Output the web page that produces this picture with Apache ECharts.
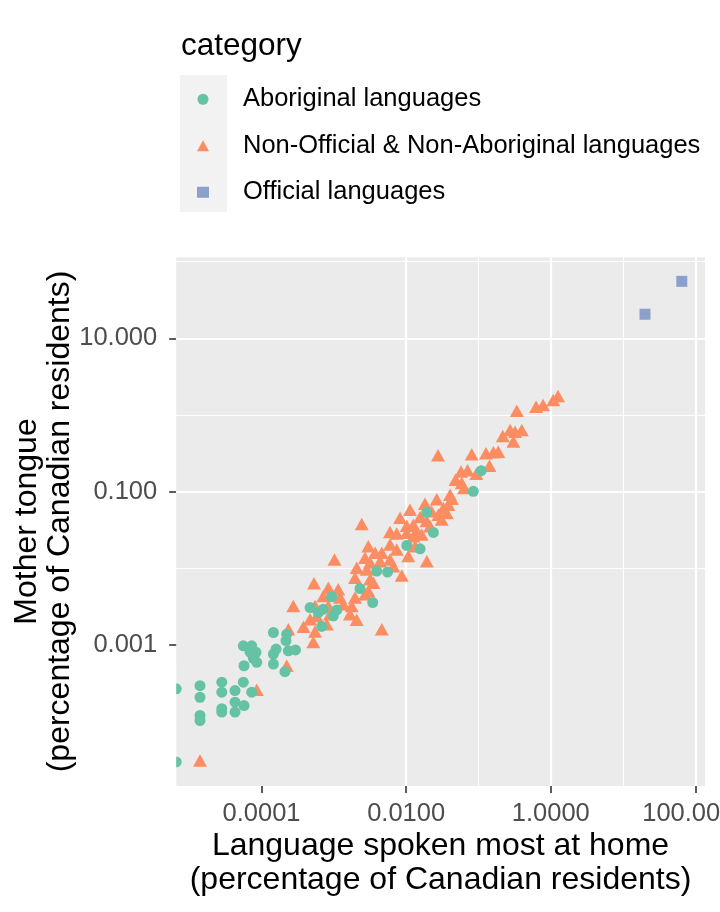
<!DOCTYPE html>
<html><head><meta charset="utf-8">
<script src="https://cdn.jsdelivr.net/npm/echarts@6/dist/echarts.min.js"></script>
<style>html,body{margin:0;padding:0;background:#fff}#c{width:720px;height:912px}</style>
</head><body><div id="c"></div>
<script>
// ---- data (percentage of Canadian residents) ----
const categories = ['Aboriginal languages', 'Non-Official & Non-Aboriginal languages', 'Official languages'];

// 0 = not spoken most at home (log of 0 -> drawn at panel edge)
const aboriginalHome = [0, 0, 1.41e-5, 1.41e-5, 1.41e-5, 1.41e-5, 2.82e-5, 2.82e-5, 2.82e-5, 2.82e-5,
  4.30e-5, 4.30e-5, 4.30e-5, 5.60e-5, 5.73e-5, 7.31e-5, 5.60e-5, 7.31e-5, 6.93e-5, 7.70e-5,
  8.39e-5, 8.59e-5, 5.73e-5, 1.46e-4, 1.46e-4, 1.59e-4, 1.46e-4, 2.23e-4, 2.18e-4, 2.35e-4,
  2.95e-4, 2.11e-4, 4.69e-4, 6.11e-4, 7.16e-4, 6.80e-4, 9.35e-4, 9.84e-4, 1.10e-3, 2.30e-3,
  3.45e-3, 3.92e-3, 5.53e-3, 1.02e-2, 1.56e-2, 1.93e-2, 2.38e-2, 8.49e-2, 0.109];
const aboriginalMother = [2.69e-4, 3.0e-5, 2.96e-4, 2.09e-4, 1.21e-4, 1.04e-4, 3.28e-4, 2.43e-4, 1.48e-4, 1.34e-4,
  2.55e-4, 1.80e-4, 1.34e-4, 3.28e-4, 1.63e-4, 2.43e-4, 9.8e-4, 9.8e-4, 8.11e-4, 6.73e-4,
  8.04e-4, 5.96e-4, 5.38e-4, 1.46e-3, 7.64e-4, 8.87e-4, 5.66e-4, 1.39e-3, 1.14e-3, 8.43e-4,
  8.65e-4, 4.5e-4, 3.09e-3, 2.66e-3, 2.94e-3, 1.75e-3, 4.27e-3, 2.40e-3, 2.87e-3, 5.45e-3,
  3.59e-3, 9.23e-3, 8.95e-3, 1.99e-2, 1.80e-2, 5.38e-2, 2.94e-2, 0.101, 0.188];

const nonOfficialHome = [1.26, 1.08, 0.782, 0.627, 0.339, 0.397, 0.321, 0.274, 0.217, 0.304,
  0.0276, 0.0807, 0.127, 0.161, 0.188, 0.142, 0.0574, 0.0706, 0.0935, 0.0482,
  0.0587, 0.0632, 0.0405, 0.0428, 0.0265, 0.0384, 0.0182, 0.0113, 0.0327, 0.0224,
  0.0365, 0.0279, 0.00824, 0.0156, 0.0191, 0.0310, 0.0102, 0.0126, 0.0214, 0.00598,
  0.00741, 0.0140, 0.0164, 0.0102, 0.0126, 0.00243, 0.00300, 0.00372, 0.00460, 0.00598,
  0.00741, 0.0133, 0.0107, 0.00102, 0.00270, 0.00317, 0.00436, 0.00598, 0.00207, 0.00285,
  0.00665, 0.00869, 0.00196, 0.00317, 0.00352, 5.32e-4, 8.39e-4, 1.15e-3, 0.00300, 0.00196,
  0.00270, 7.16e-4, 1.22e-3, 2.75e-4, 5.50e-4, 8.39e-4, 1.35e-3, 1.77e-3, 1.67e-3, 8.85e-4,
  5.79e-4, 4.69e-4, 2.07e-3, 7.98e-4, 3.81e-4, 4.60e-3, 5.50e-4, 5.20e-4, 2.35e-4, 2.23e-4,
  8.59e-5, 1.41e-5, 1.93e-2];
const nonOfficialMother = [1.77, 1.57, 1.35, 1.28, 1.14, 0.638, 0.607, 0.638, 0.533, 0.450,
  0.298, 0.307, 0.318, 0.326, 0.333, 0.218, 0.184, 0.191, 0.172, 0.143,
  0.130, 0.112, 0.0914, 0.0811, 0.0800, 0.0678, 0.0698, 0.0583, 0.0614, 0.0558,
  0.0528, 0.0502, 0.0459, 0.0467, 0.0414, 0.0433, 0.0359, 0.0370, 0.0354, 0.0298,
  0.0285, 0.0305, 0.0277, 0.0291, 0.0262, 0.0378, 0.0195, 0.0160, 0.0160, 0.0205,
  0.0177, 0.0195, 0.0145, 0.0131, 0.0138, 0.0119, 0.0124, 0.0131, 0.0102, 0.00971,
  0.0107, 0.00811, 0.00757, 0.00720, 0.00652, 0.00638, 0.00561, 0.00533, 0.00507, 0.00416,
  0.00459, 0.00437, 0.00416, 0.00324, 0.00324, 0.00324, 0.00340, 0.00324, 0.00253, 0.00253,
  0.00240, 0.00218, 0.00214, 0.00187, 0.00174, 0.00161, 0.00150, 0.00110, 0.00161, 5.38e-4,
  2.62e-4, 3.14e-5, 0.0124];

const officialHome = [64.9, 20.1];
const officialMother = [55.3, 20.6];

// ---- axes ----
const xLimits = [6.607e-6, 135.8];
const yLimits = [1.455e-5, 113.8];
const xTickValues = [1e-4, 1e-2, 1, 100];
const xTickLabels = ['0.0001', '0.0100', '1.0000', '100.0000'];
const yTickValues = [1e-3, 1e-1, 10];
const yTickLabels = ['0.001', '0.100', '10.000'];
const xMinorGrid = [1e-5, 1e-3, 1e-1, 10];
const yMinorGrid = [1e-4, 1e-2, 1, 100];

const FONT = '"Liberation Sans", Arial, Helvetica, sans-serif';
const TITLE_SIZE = 32, LEGEND_TITLE_SIZE = 31.5, SMALL_SIZE = 25.5;

function pairs(xs, ys) {
  return xs.map((x, i) => [x === 0 ? xLimits[0] : x, ys[i] === 0 ? yLimits[0] : ys[i]]);
}
function fmt(values, labels) {
  return function (v) {
    const i = values.findIndex(t => Math.abs(Math.log10(t) - Math.log10(v)) < 1e-6);
    return i >= 0 ? labels[i] : '';
  };
}

const gridLines = [].concat(
  xMinorGrid.map(v => ({ xAxis: v, lineStyle: { width: 1.1 } })),
  yMinorGrid.map(v => ({ yAxis: v, lineStyle: { width: 1.1 } })),
  xTickValues.map(v => ({ xAxis: v, lineStyle: { width: 2.2 } })),
  yTickValues.map(v => ({ yAxis: v, lineStyle: { width: 2.2 } }))
);

const chart = echarts.init(document.getElementById('c'), null, { renderer: 'canvas' });
chart.setOption({
  animation: false,
  backgroundColor: '#FFFFFF',
  grid: { left: 176.2, right: 15, top: 257.3, bottom: 126, show: true, backgroundColor: '#EBEBEB', borderWidth: 0,
    containLabel: false, outerBoundsMode: 'none' },
  xAxis: {
    type: 'log', logBase: 10, min: xLimits[0], max: xLimits[1],
    axisLine: { show: false },
    splitLine: { show: false },
    minorSplitLine: { show: false },
    axisTick: { show: true, customValues: xTickValues, length: 7, lineStyle: { color: '#333333', width: 1.6 } },
    axisLabel: { customValues: xTickValues, formatter: fmt(xTickValues, xTickLabels), margin: 15, fontSize: SMALL_SIZE, fontFamily: FONT, color: '#4D4D4D', hideOverlap: false }
  },
  yAxis: {
    type: 'log', logBase: 10, min: yLimits[0], max: yLimits[1],
    axisLine: { show: false },
    splitLine: { show: false },
    minorSplitLine: { show: false },
    axisTick: { show: true, customValues: yTickValues, length: 7, lineStyle: { color: '#333333', width: 1.6 } },
    axisLabel: { customValues: yTickValues, formatter: fmt(yTickValues, yTickLabels), margin: 19, fontSize: SMALL_SIZE, fontFamily: FONT, color: '#4D4D4D' }
  },
  legend: {
    orient: 'vertical', left: 197, top: 76, padding: 0, itemGap: 0,
    itemWidth: 12, itemHeight: 11, symbolKeepAspect: true,
    textStyle: { fontSize: SMALL_SIZE, fontFamily: FONT, color: '#000000', lineHeight: 46.5, padding: [0, 0, 0, 29] },
    data: [
      { name: categories[0], icon: 'circle' },
      { name: categories[1], icon: 'triangle' },
      { name: categories[2], icon: 'rect' }
    ],
    selectedMode: false
  },
  graphic: [
    { type: 'rect', z: 0, silent: true, shape: { x: 180, y: 75, width: 47, height: 137 }, style: { fill: '#F2F2F2' } },
    // panel clipping strip on the left edge (points at log(0) sit on the panel border)
    { type: 'rect', z: 50, silent: true, shape: { x: 162, y: 665, width: 14.2, height: 121 }, style: { fill: '#FFFFFF' } },
    { type: 'text', x: 181, y: 46, silent: true, style: { text: 'category', fontSize: LEGEND_TITLE_SIZE, fontFamily: FONT, fill: '#000000', align: 'left', verticalAlign: 'middle' } },
    { type: 'text', x: 440.5, y: 863, silent: true, style: { text: 'Language spoken most at home\n(percentage of Canadian residents)', fontSize: TITLE_SIZE, fontFamily: FONT, fill: '#000000', align: 'center', verticalAlign: 'middle', lineHeight: 34 } },
    { type: 'text', x: 43.5, y: 521.5, rotation: Math.PI / 2, silent: true, style: { text: 'Mother tongue\n(percentage of Canadian residents)', fontSize: TITLE_SIZE, fontFamily: FONT, fill: '#000000', align: 'center', verticalAlign: 'middle', lineHeight: 33.4 } }
  ],
  series: [
    {
      name: 'grid', type: 'scatter', data: [], silent: true, z: 1,
      markLine: { silent: true, z: 1, symbol: ['none', 'none'], label: { show: false }, animation: false,
        lineStyle: { color: '#FFFFFF', type: 'solid', opacity: 1 }, emphasis: { disabled: true }, data: gridLines }
    },
    {
      name: categories[1], type: 'scatter', z: 2, clip: false, symbol: 'triangle', symbolSize: [14, 12.5],
      itemStyle: { color: '#FC8D62', opacity: 1 }, emphasis: { disabled: true },
      data: pairs(nonOfficialHome, nonOfficialMother)
    },
    {
      name: categories[0], type: 'scatter', z: 2, clip: false, symbol: 'circle', symbolSize: 11,
      itemStyle: { color: '#66C2A5', opacity: 1 }, emphasis: { disabled: true },
      data: pairs(aboriginalHome, aboriginalMother)
    },
    {
      name: categories[2], type: 'scatter', z: 2, clip: false, symbol: 'rect', symbolSize: 11,
      itemStyle: { color: '#8DA0CB', opacity: 1 }, emphasis: { disabled: true },
      data: pairs(officialHome, officialMother)
    }
  ]
});
</script></body></html>
